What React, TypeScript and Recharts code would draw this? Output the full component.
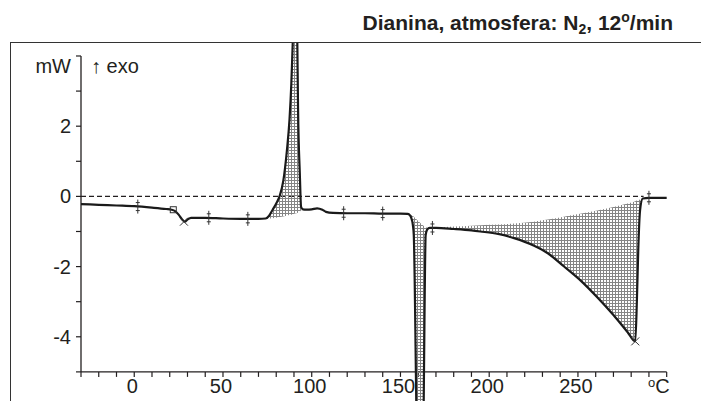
import { ComposedChart, Line, Area, Scatter, XAxis, YAxis, ReferenceLine } from "recharts";

const W = 701;
const H = 401;
const INK = "#231f20";
const FONT = "'Liberation Sans', Arial, Helvetica, sans-serif";

// DSC trace: temperature (ºC) and heat flow (mW)
const temps = [
  -30, -20, -10, 0, 10, 18, 21, 23, 25, 27, 28.5, 30, 32, 40, 50, 60, 70,
  74, 76, 78, 80, 82, 84, 86, 87.5, 88.5, 89.3, 91.2, 91.9, 92.3, 93.3, 94, 95,
  97, 100, 103, 106, 108, 112, 120, 130, 140, 150,
  154, 155, 156, 157, 157.5, 159, 161.2, 163, 164.2, 165, 166.5,
  170, 180, 190, 195, 205, 214, 225, 233, 242, 252, 261, 270, 278, 282.3,
  283.2, 284, 285, 286.5, 290, 295, 300,
];
const heatFlow = [
  -0.22, -0.24, -0.26, -0.28, -0.32, -0.36, -0.38, -0.42, -0.52, -0.66, -0.72, -0.66, -0.61, -0.61, -0.63, -0.64, -0.64,
  -0.63, -0.55, -0.38, -0.2, 0.02, 0.45, 1.3, 2.2, 3.2, 4.37, 7.0, 4.3, 2.5, 0.64, -0.3, -0.37,
  -0.38, -0.37, -0.34, -0.38, -0.44, -0.47, -0.48, -0.48, -0.49, -0.49,
  -0.5, -0.52, -0.6, -0.82, -1.1, -6.2, -13.8, -6.3, -1.1, -0.95, -0.9,
  -0.9, -0.93, -0.97, -1.0, -1.07, -1.19, -1.4, -1.62, -1.99, -2.42, -2.88, -3.38, -3.87, -4.13,
  -3.0, -1.5, -0.4, -0.06, -0.04, -0.04, -0.04,
];
// integration baselines (null = no shaded area)
const baseline = [
  null, null, null, null, null, null, null, null, null, null, null, null, null, null, null, null, null,
  -0.63, -0.63, -0.62, -0.61, -0.59, -0.57, -0.55, -0.53, -0.52, -0.51, -0.48, -0.47, -0.46, -0.43, -0.4, -0.37,
  null, null, null, null, null, null, null, null, null, null,
  -0.5, -0.51, -0.53, -0.56, -0.58, -0.65, -0.76, -0.84, -0.88, -0.89, -0.9,
  -0.89, -0.86, -0.84, -0.82, -0.8, -0.77, -0.72, -0.66, -0.58, -0.49, -0.4, -0.3, -0.2, -0.14,
  -0.12, -0.11, -0.09, -0.06, null, null, null,
];

// evaluation limit marks
const markerTemps = [2, 22, 28, 42, 64, 118, 140, 168, 282.3, 290];
const markerValues = [-0.29, -0.38, -0.72, -0.61, -0.64, -0.48, -0.49, -0.9, -4.13, -0.04];
const markerKinds = ["tick", "square", "cross", "tick", "tick", "tick", "tick", "tick", "cross", "tick"];

const xTicks = [
  -30, -20, -10, 0, 10, 20, 30, 40, 50, 60, 70, 80, 90, 100, 110, 120, 130, 140, 150,
  160, 170, 180, 190, 200, 210, 220, 230, 240, 250, 260, 270, 280, 290, 300,
];
const xTickLabels: Record<number, string> = { 0: "0", 50: "50", 100: "100", 150: "150", 200: "200", 250: "250" };
const yTicks = [-5, -4, -3, -2, -1, 0, 1, 2, 3, 4];
const yTickLabels: Record<number, string> = { [-4]: "-4", [-2]: "-2", 0: "0", 2: "2" };

// layout
const PLOT_LEFT = 81;
const PLOT_TOP = 43;
const PX_PER_C = 1.7748;
const PX_PER_MW = 35.1;
const X_MIN = -30;
const X_MAX = 300;
const X_MAX_SERIES = 305;
const Y_TOP = 4.37;
const Y_AXIS_MIN = -5;
const Y_CLIP_MIN = -5.83;

const rows = temps.map((t, i) => ({
  t,
  v: heatFlow[i],
  band: baseline[i] == null ? null : [baseline[i], heatFlow[i]],
}));
const markers = markerTemps.map((t, i) => ({ t, v: markerValues[i], kind: markerKinds[i] }));

function XTick(props: any) {
  const { x, y, payload } = props;
  const v = payload.value;
  if (v === 300) {
    return (
      <text x={x + 3} y={y + 16} textAnchor="end" fontSize={20} fill={INK} fontFamily={FONT}>
        <tspan fontSize={13} dy={-6}>o</tspan>
        <tspan dy={6}>C</tspan>
      </text>
    );
  }
  const label = xTickLabels[v];
  if (!label) return <g />;
  return (
    <text x={x - 2} y={y + 16} textAnchor="middle" fontSize={20} fill={INK} fontFamily={FONT}>
      {label}
    </text>
  );
}

function YTick(props: any) {
  const { x, y, payload } = props;
  const v = payload.value;
  if (v === 4) {
    return (
      <g>
        <text x={x} y={y + 17} textAnchor="end" fontSize={20} fill={INK} fontFamily={FONT}>mW</text>
        <text x={x + 20} y={y + 17} fontSize={20} fill={INK} fontFamily={FONT}>↑ exo</text>
      </g>
    );
  }
  const label = yTickLabels[v];
  if (!label) return <g />;
  return (
    <text x={x} y={y + 7} textAnchor="end" fontSize={20} fill={INK} fontFamily={FONT}>
      {label}
    </text>
  );
}

function MarkerShape(props: any) {
  const { cx, cy, payload } = props;
  if (payload.kind === "square") {
    return <rect x={cx - 3} y={cy - 3} width={6} height={6} fill="none" stroke="#333" strokeWidth={1} />;
  }
  if (payload.kind === "cross") {
    return (
      <path
        d={`M${cx - 4},${cy - 4}L${cx + 4},${cy + 4}M${cx - 4},${cy + 4}L${cx + 4},${cy - 4}`}
        stroke="#333"
        strokeWidth={1}
      />
    );
  }
  return (
    <path
      d={`M${cx},${cy - 7}V${cy + 7}M${cx - 2},${cy - 4}H${cx + 2}M${cx - 2},${cy + 4}H${cx + 2}`}
      stroke="#333"
      strokeWidth={1}
    />
  );
}

export default function App() {
  const plotW = (X_MAX - X_MIN) * PX_PER_C;
  const axisPlotH = (Y_TOP - Y_AXIS_MIN) * PX_PER_MW;
  const seriesPlotW = (X_MAX_SERIES - X_MIN) * PX_PER_C;
  const seriesPlotH = (Y_TOP - Y_CLIP_MIN) * PX_PER_MW;

  return (
    <div
      style={{
        position: "absolute",
        left: 0,
        top: 0,
        width: W,
        height: H,
        background: "#fff",
        overflow: "hidden",
        fontFamily: FONT,
      }}
    >
      <div
        style={{
          position: "absolute",
          left: 10,
          top: 42,
          width: W - 10,
          height: H - 42,
          borderLeft: "1.3px solid #333",
          borderTop: "1.3px solid #333",
          boxSizing: "border-box",
        }}
      />
      <svg width={W} height={40} style={{ position: "absolute", left: 0, top: 0 }}>
        <text x={673} y={30} textAnchor="end" fontSize={21} fontWeight="bold" fill={INK} fontFamily={FONT}>
          Dianina, atmosfera: N<tspan fontSize={14} dy={4}>2</tspan>
          <tspan dy={-4}>, 12</tspan>
          <tspan fontSize={14} dy={-8}>o</tspan>
          <tspan dy={8}>/min</tspan>
        </text>
      </svg>

      <div style={{ position: "absolute", left: 0, top: 0 }}>
        <ComposedChart
          width={W}
          height={H}
          data={rows}
          margin={{ top: PLOT_TOP, left: 10, right: W - PLOT_LEFT - plotW, bottom: 0 }}
        >
          <XAxis
            type="number"
            dataKey="t"
            domain={[X_MIN, X_MAX]}
            allowDataOverflow
            ticks={xTicks}
            interval={0}
            tickSize={5}
            tickMargin={0}
            height={H - PLOT_TOP - axisPlotH}
            axisLine={{ stroke: INK, strokeWidth: 1.3 }}
            tickLine={{ stroke: INK, strokeWidth: 1.2 }}
            tick={<XTick />}
          />
          <YAxis
            type="number"
            domain={[Y_AXIS_MIN, Y_TOP]}
            allowDataOverflow
            ticks={yTicks}
            interval={0}
            width={PLOT_LEFT - 10}
            tickSize={5}
            tickMargin={5}
            axisLine={false}
            tickLine={{ stroke: INK, strokeWidth: 1.2 }}
            tick={<YTick />}
          />
          <ReferenceLine
            segment={[{ x: X_MIN, y: Y_AXIS_MIN }, { x: X_MIN, y: 4 }]}
            stroke={INK}
            strokeWidth={1.3}
          />
          <ReferenceLine
            segment={[{ x: X_MIN, y: 0 }, { x: 287, y: 0 }]}
            stroke={INK}
            strokeWidth={1.2}
            strokeDasharray="5 3"
          />
        </ComposedChart>
      </div>

      <div style={{ position: "absolute", left: 0, top: 0, pointerEvents: "none" }}>
        <ComposedChart
          width={W}
          height={PLOT_TOP + seriesPlotH}
          data={rows}
          margin={{ top: PLOT_TOP, left: PLOT_LEFT, right: W - PLOT_LEFT - seriesPlotW, bottom: 0 }}
        >
          <defs>
            <pattern id="hatch" width="3" height="3" patternUnits="userSpaceOnUse">
              <path d="M0 0.5H3M0.5 0V3" stroke="#858585" strokeWidth="1" />
            </pattern>
          </defs>
          <XAxis type="number" dataKey="t" domain={[X_MIN, X_MAX_SERIES]} allowDataOverflow hide />
          <YAxis type="number" domain={[Y_CLIP_MIN, Y_TOP]} allowDataOverflow hide />
          <Area
            dataKey="band"
            type="monotone"
            fill="url(#hatch)"
            fillOpacity={1}
            stroke="none"
            connectNulls={false}
            isAnimationActive={false}
          />
          <Line
            dataKey="v"
            type="monotone"
            stroke="#1a1a1a"
            strokeWidth={2.2}
            dot={false}
            isAnimationActive={false}
          />
          <Scatter data={markers} dataKey="v" shape={<MarkerShape />} isAnimationActive={false} />
        </ComposedChart>
      </div>
    </div>
  );
}
